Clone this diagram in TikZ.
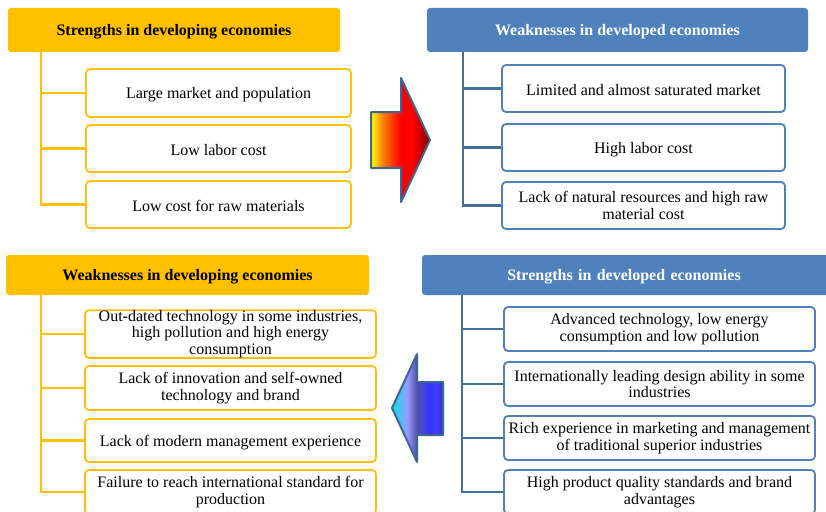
\documentclass[tikz,border=0pt]{standalone}
\usepackage{fontspec}
\setmainfont{Liberation Serif}
\definecolor{gold}{HTML}{FFC000}
\definecolor{steel}{HTML}{4F81BD}
\definecolor{trunkblue}{HTML}{41709F}
\definecolor{arrowedge}{HTML}{3F6590}
\pgfdeclarehorizontalshading{hotarrow}{100bp}{color(0bp)=(yellow); color(25bp)=(yellow); color(35bp)=(orange); color(50bp)=(red); color(60bp)=(red); color(75bp)=(red!50!black); color(100bp)=(red!50!black)}
\pgfdeclarehorizontalshading{coolarrow}{100bp}{color(0bp)=(cyan!80!teal); color(25bp)=(cyan!80!teal); color(40bp)=(blue!40!white); color(49bp)=(blue!35!gray); color(62bp)=(blue!80!white); color(68bp)=(blue!75!white); color(75bp)=(blue!60!gray); color(100bp)=(blue!60!gray)}
\tikzset{
  txt/.style={font=\fontsize{16}{16.6}\selectfont, align=center, inner sep=0pt, execute at begin node=\rule{0pt}{14.6pt}},
  hdrY/.style={txt, fill=gold, rounded corners=3pt, font=\fontsize{16}{16.6}\selectfont\bfseries, text=black},
  hdrB/.style={txt, fill=steel, rounded corners=3pt, font=\fontsize{16}{16.6}\selectfont\bfseries, text=white},
  boxY/.style={txt, draw=gold, line width=1.8pt, fill=white, rounded corners=4pt},
  boxB/.style={txt, draw=steel, line width=1.8pt, fill=white, rounded corners=4pt},
  trunkY/.style={draw=gold, line width=2.4pt},
  trunkB/.style={draw=trunkblue, line width=2.4pt},
  bigarrow/.style={draw=arrowedge, line width=2pt, line join=round}
}
\begin{document}
\begin{tikzpicture}[x=1pt,y=-1pt]
\useasboundingbox (0,0) rectangle (826,511);
\clip (0,0) rectangle (826,511);
% top left
\node[hdrY, minimum width=332pt, minimum height=44pt] (h1) at (174,30) {Strengths in developing economies};
\coordinate (t1) at (41,52);
\node[boxY, minimum width=265pt, minimum height=48pt] (c11) at (218.5,93) {Large market and population};
\node[boxY, minimum width=265pt, minimum height=47pt] (c12) at (218.5,148.5) {Low labor cost};
\node[boxY, minimum width=265pt, minimum height=47pt] (c13) at (218.5,204.5) {Low cost for raw materials};
\draw[trunkY] (t1) |- (c13.west);
\draw[trunkY] (t1 |- c11.west) -- (c11.west);
\draw[trunkY] (t1 |- c12.west) -- (c12.west);
% top right
\node[hdrB, minimum width=381pt, minimum height=44pt] (h2) at (617.5,30) {Weaknesses in developed economies};
\coordinate (t2) at (463,52);
\node[boxB, minimum width=283pt, minimum height=47pt] (c21) at (643.5,88.5) {Limited and almost saturated market};
\node[boxB, minimum width=283pt, minimum height=47pt] (c22) at (643.5,147.5) {High labor cost};
\node[boxB, minimum width=283pt, minimum height=47pt] (c23) at (643.5,205.5) {Lack of natural resources and high raw\\material cost};
\draw[trunkB] (t2) |- (c23.west);
\draw[trunkB] (t2 |- c21.west) -- (c21.west);
\draw[trunkB] (t2 |- c22.west) -- (c22.west);
% bottom left
\node[hdrY, minimum width=363pt, minimum height=40pt] (h3) at (187.5,275) {Weaknesses in developing economies};
\coordinate (t3) at (41,295);
\node[boxY, minimum width=291pt, minimum height=44pt] (c31) at (230.5,334) {Out-dated technology in some industries,\\high pollution and high energy\\consumption};
\node[boxY, minimum width=291pt, minimum height=44pt] (c32) at (230.5,388) {Lack of innovation and self-owned\\technology and brand};
\node[boxY, minimum width=291pt, minimum height=43pt] (c33) at (230.5,440.5) {Lack of modern management experience};
\node[boxY, minimum width=291pt, minimum height=44pt] (c34) at (230.5,492) {Failure to reach international standard for\\production};
\draw[trunkY] (t3) |- (c34.west);
\draw[trunkY] (t3 |- c31.west) -- (c31.west);
\draw[trunkY] (t3 |- c32.west) -- (c32.west);
\draw[trunkY] (t3 |- c33.west) -- (c33.west);
% bottom right
\node[hdrB, minimum width=408pt, minimum height=40pt, text width=408pt, align=center] (h4) at (626,275) {\hspace*{-4pt}Strengths in developed economies};
\coordinate (t4) at (462,295);
\node[boxB, minimum width=311pt, minimum height=44pt] (c41) at (659.5,329) {Advanced technology, low energy\\consumption and low pollution};
\node[boxB, minimum width=311pt, minimum height=44pt] (c42) at (659.5,384) {Internationally leading design ability in some\\industries};
\node[boxB, minimum width=311pt, minimum height=44pt] (c43) at (659.5,438) {Rich experience in marketing and management\\of traditional superior industries};
\node[boxB, minimum width=311pt, minimum height=44pt] (c44) at (659.5,492) {High product quality standards and brand\\advantages};
\draw[trunkB] (t4) |- (c44.west);
\draw[trunkB] (t4 |- c41.west) -- (c41.west);
\draw[trunkB] (t4 |- c42.west) -- (c42.west);
\draw[trunkB] (t4 |- c43.west) -- (c43.west);
% arrows
\path[bigarrow, shading=hotarrow] (371,112) -- (401,112) -- (401,78) -- (430,140) -- (401,202) -- (401,168) -- (371,168) -- cycle;
\path[bigarrow, shading=coolarrow] (443,382) -- (417,382) -- (417,354) -- (392,408) -- (417,462) -- (417,435) -- (443,435) -- cycle;
\end{tikzpicture}
\end{document}
